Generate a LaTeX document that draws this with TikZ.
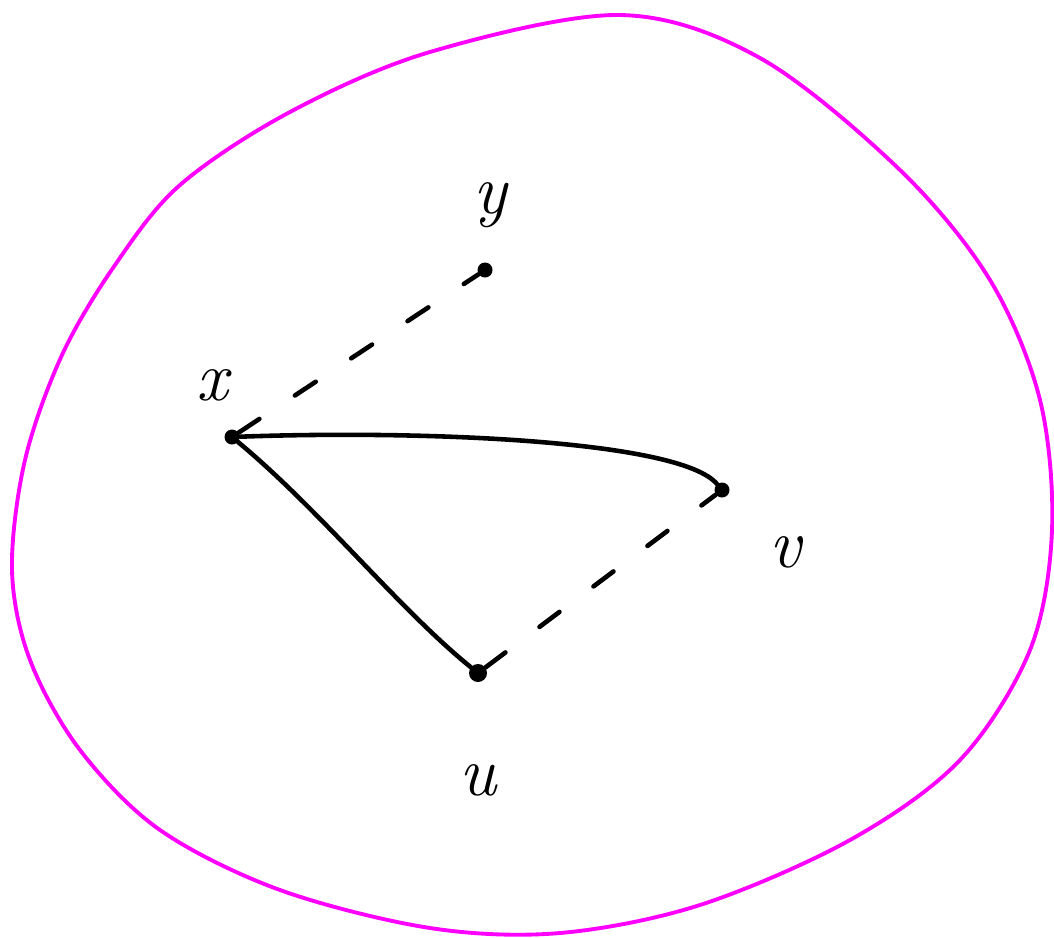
\documentclass[tikz,border=0pt]{standalone}
\usepackage{fontspec}
\usepackage{tikz}
\usetikzlibrary{positioning}
\definecolor{kmagenta}{HTML}{FF00FF}

\tikzset{
  blob/.style={draw=kmagenta, line width=2.2pt},
  pt/.style={circle, fill=black, inner sep=0pt, minimum size=0.3cm},
  edge/.style={draw=black, line width=2.6pt, line cap=round},
  dashedge/.style={draw=black, line width=2.6pt, line cap=round, dash pattern=on 0.5cm off 0.85cm},
  lbl/.style={font=\fontsize{40}{40}\selectfont\itshape}
}

\begin{document}
\begin{tikzpicture}[x=0.02cm, y=-0.02cm]
\useasboundingbox (0,0) rectangle (1054,937);
% the set
\draw[blob] plot[smooth cycle, tension=0.55] coordinates {
  (620,15) (760,58) (900,170) (990,280) (1040,400) (1052,530) (1030,650)
  (960,760) (850,840) (700,905) (560,933) (430,928) (280,890) (160,830)
  (80,750) (30,660) (12,570) (25,460) (62,355) (115,265) (180,185)
  (290,112) (430,52)};
% points
\node[pt] (x) at (232,437) {};
\node[pt] (y) at (485,270) {};
\node[pt] (v) at (722,490) {};
\node[pt, minimum size=0.36cm] (u) at (478,673) {};
% labels
\node[lbl] (lx) at (212,385) {x};
\node[lbl] (ly) at (490,205) {y};
\node[lbl] (lv) at (785,552) {v};
\node[lbl] (lu) at (478,780) {u};
% connectors
\draw[edge] (x) .. controls (420,430) and (680,440) .. (v);
\draw[edge] (x) .. controls (320,510) and (400,610) .. (u);
\draw[dashedge] (x) -- (y);
\draw[dashedge] (u) -- (v);
\end{tikzpicture}
\end{document}
